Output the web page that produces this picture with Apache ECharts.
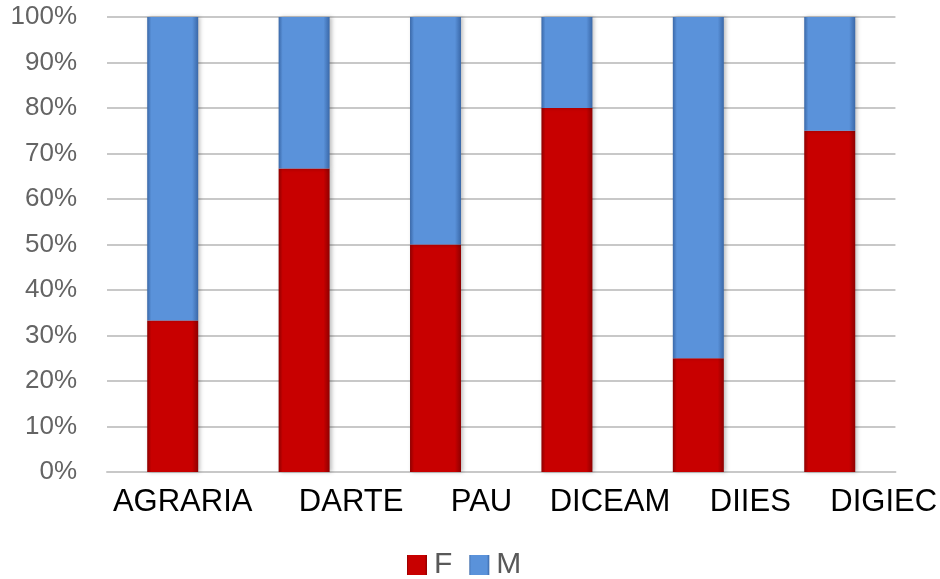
<!DOCTYPE html>
<html>
<head>
<meta charset="utf-8">
<script src="https://cdn.jsdelivr.net/npm/echarts@6/dist/echarts.min.js"></script>
<style>
  html, body { margin: 0; padding: 0; background: #fff; }
  #chart { width: 940px; height: 579px; }
</style>
</head>
<body>
<div id="chart"></div>
<script>
var categories = ['AGRARIA', 'DARTE', 'PAU', 'DICEAM', 'DIIES', 'DIGIEC'];
var fData = [33.3, 66.7, 50, 80, 25, 75];
var mData = [66.7, 33.3, 50, 20, 75, 25];
var yTicks = [0, 10, 20, 30, 40, 50, 60, 70, 80, 90, 100];
// label shift to the right (px*2) as in the picture
var labelPad = [20, 94, 92, 86, 104, 108];

var rich = {};
for (var i = 0; i < labelPad.length; i++) {
	rich['p' + i] = { padding: [0, 0, 0, labelPad[i]], fontSize: 31, color: '#000', fontFamily: 'Liberation Sans' };
}

function barColor(edge, main) {
	return new echarts.graphic.LinearGradient(0, 0, 1, 0, [
		{ offset: 0, color: edge },
		{ offset: 0.08, color: main },
		{ offset: 0.88, color: main },
		{ offset: 1, color: edge }
	]);
}

var option = {
	animation: false,
	grid: { left: 107, right: 43, top: 17, bottom: 107 },
	legend: {
		data: ['F', 'M'],
		left: 402,
		top: 545,
		itemWidth: 20,
		itemHeight: 20,
		itemGap: 17,
		icon: 'rect',
		textStyle: { fontSize: 30, color: '#595959', fontFamily: 'Liberation Sans', padding: [0, 0, 0, 2] }
	},
	xAxis: {
		type: 'category',
		data: categories,
		axisTick: { show: false },
		axisLine: { lineStyle: { color: '#c8c8c8', width: 2 } },
		axisLabel: {
			interval: 0,
			margin: 15,
			formatter: function (v, idx) { return '{p' + idx + '|' + v + '}'; },
			rich: rich
		}
	},
	yAxis: {
		type: 'value',
		min: yTicks[0],
		max: yTicks[yTicks.length - 1],
		interval: 10,
		axisLine: { show: false },
		axisTick: { show: false },
		axisLabel: {
			formatter: '{value}%',
			margin: 30,
			fontSize: 26,
			color: '#646464',
			fontFamily: 'Liberation Sans'
		},
		splitLine: { lineStyle: { color: '#c8c8c8', width: 2 } }
	},
	series: [{
		name: 'F',
		type: 'bar',
		stack: 'tot',
		barWidth: 51,
		data: fData,
		itemStyle: {
			color: barColor('#8e0000', '#c80000'),
			shadowColor: 'rgba(0,0,0,0.25)',
			shadowBlur: 4,
			shadowOffsetX: 2
		}
	}, {
		name: 'M',
		type: 'bar',
		stack: 'tot',
		barWidth: 51,
		data: mData,
		itemStyle: {
			color: barColor('#3a68a8', '#5a92da'),
			shadowColor: 'rgba(0,0,0,0.25)',
			shadowBlur: 4,
			shadowOffsetX: 2
		}
	}]
};

var myChart = echarts.init(document.getElementById('chart'));
myChart.setOption(option);
</script>
</body>
</html>
